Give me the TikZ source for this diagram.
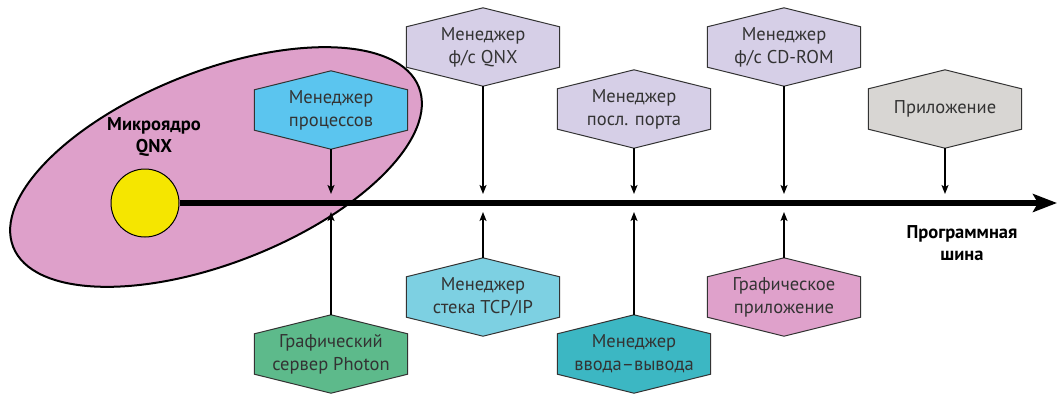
\documentclass[tikz,border=0pt]{standalone}
\usepackage{fontspec}
\setmainfont{PT Sans}
\usetikzlibrary{arrows.meta,shapes.geometric}
\pgfdeclarelayer{back}
\pgfdeclarelayer{background}
\pgfsetlayers{back,background,main}
\definecolor{zonepink}{HTML}{DEA0CA}
\definecolor{coreyellow}{HTML}{F5E600}
\definecolor{procblue}{HTML}{5BC5EF}
\definecolor{lavender}{HTML}{D6CFE7}
\definecolor{appgray}{HTML}{D8D6D3}
\definecolor{tcpblue}{HTML}{7DD0E2}
\definecolor{gappink}{HTML}{DFA1CB}
\definecolor{ioteal}{HTML}{3CB7C3}
\definecolor{photongreen}{HTML}{5DBA8B}
\definecolor{txtgray}{HTML}{333333}
\tikzset{
  hexn/.style={minimum width=153pt, minimum height=78pt, inner sep=0pt, align=center,
    text=txtgray, font=\fontsize{18.5}{23}\selectfont},
  hexline/.style={draw=txtgray, line width=1pt},
  link/.style={line width=1.3pt, -{Stealth[length=9pt,width=7pt,inset=2pt]}},
  boldlbl/.style={align=center, font=\bfseries\fontsize{18.5}{22}\selectfont, text=black},
}
\begin{document}
\begin{tikzpicture}[x=1pt,y=-1pt]
\useasboundingbox (0,0) rectangle (1057,394);
% kernel zone
\begin{pgfonlayer}{back}
\node[ellipse, draw=black, line width=2pt, fill=zonepink, minimum width=436pt,
  minimum height=192pt, inner sep=0pt, rotate=21.5] (zone) at (216,167) {};
\end{pgfonlayer}
% core
\node[circle, draw=black, line width=1pt, fill=coreyellow, minimum size=68pt, inner sep=0pt] (core) at (145,203) {};
\coordinate (busend) at (1057,203);
\coordinate (bus) at (0,203);
\draw[line width=6pt, -{Stealth[length=24pt,width=18pt,inset=5pt]}] (core.east) -- (busend);
\node[boldlbl] (kernlbl) at (154,137) {Микроядро\\QNX};
\node[boldlbl] (buslbl) at (962,243) {Программная\\шина};
% managers
\node[hexn] (h1) at (331,110) {Менеджер\\процессов};
\node[hexn] (h2) at (483,47) {Менеджер\\ф/с QNX};
\node[hexn] (h3) at (634,109) {Менеджер\\посл. порта};
\node[hexn] (h4) at (784,47) {Менеджер\\ф/с CD-ROM};
\node[hexn] (h5) at (945,109) {Приложение};
\node[hexn] (h6) at (483,297) {Менеджер\\стека TCP/IP};
\node[hexn] (h7) at (784,297) {Графическое\\приложение};
\node[hexn] (h8) at (634,354) {Менеджер\\ввода–вывода};
\node[hexn] (h9) at (331,354) {Графический\\сервер Photon};
\begin{pgfonlayer}{background}
\foreach \n/\c in {h1/procblue,h2/lavender,h3/lavender,h4/lavender,h5/appgray,h6/tcpblue,h7/gappink,h8/ioteal,h9/photongreen}{
  \filldraw[hexline, fill=\c] (\n.north) -- ([yshift=-19pt]\n.north east) -- ([yshift=19pt]\n.south east)
    -- (\n.south) -- ([yshift=19pt]\n.south west) -- ([yshift=-19pt]\n.north west) -- cycle;
}
\end{pgfonlayer}
% connectors to the bus
\foreach \n in {h1,h2,h3,h4,h5}{
  \draw[link, shorten >=9pt] (\n.south) -- (\n.south |- bus);
}
\foreach \n in {h6,h7,h8,h9}{
  \draw[link, shorten >=9pt] (\n.north) -- (\n.north |- bus);
}
\end{tikzpicture}
\end{document}
